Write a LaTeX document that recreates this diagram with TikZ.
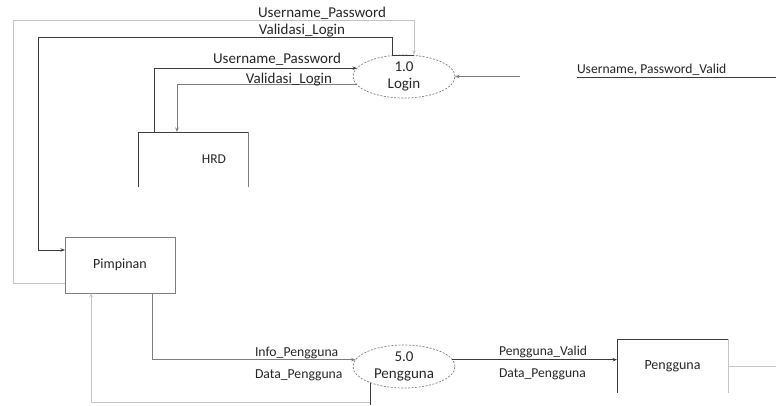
\documentclass[tikz,border=0pt]{standalone}
\usepackage{fontspec}
\setmainfont{Carlito}
\usetikzlibrary{arrows.meta,shapes.geometric}
\definecolor{dk}{HTML}{3C3C3C}
\definecolor{md}{HTML}{7E7E7E}
\definecolor{lt}{HTML}{C4C4C4}
\definecolor{txt}{HTML}{262626}
\begin{document}
\begin{tikzpicture}[x=1pt,y=-1pt,
  lab/.style={font=\fontsize{14}{16}\selectfont, text=txt, inner sep=0pt, outer sep=0pt},
  biglab/.style={font=\fontsize{15}{17}\selectfont, text=txt, inner sep=0pt, outer sep=0pt},
  proc/.style={ellipse, draw=md, dash pattern=on 2pt off 1.5pt, line width=0.7pt,
    minimum width=102pt, minimum height=43pt, inner sep=0pt, outer sep=0pt,
    align=center, font=\fontsize{15}{17}\selectfont, text=txt},
  openbox/.style={rectangle, minimum width=110pt, minimum height=55pt, inner sep=0pt,
    outer sep=0pt, font=\fontsize{14}{16}\selectfont, text=txt},
  arr/.style={-{Stealth[length=4.5pt,width=3.5pt]}},
  dkline/.style={draw=dk, line width=0.8pt},
  mdline/.style={draw=md, line width=0.8pt},
  ltline/.style={draw=lt, line width=0.8pt}]
\useasboundingbox (0,0) rectangle (776,405);

% processes
\node[proc] (login) at (404,76.5) {1.0\\Login};
\node[proc] (p5) at (404,366.5) {5.0\\Pengguna};

% entities
\node[openbox, minimum width=110pt, minimum height=55pt,
  label={[font=\fontsize{13.5}{16}\selectfont, text=txt, xshift=21pt]center:HRD}] (hrd) at (193,159.5) {};
\draw[dkline] (hrd.south west) -- (hrd.north west) -- (hrd.north east);
\draw[mdline] (hrd.north east) -- (hrd.south east);

\node[openbox, draw=md, line width=0.8pt, minimum width=110pt, minimum height=56pt] (pimp) at (120,265) {Pimpinan};

\node[openbox, minimum width=111pt, minimum height=54pt] (peng) at (672.5,366) {Pengguna};
\draw[dkline] (peng.south west) -- (peng.north west) -- (peng.north east);
\draw[ltline] (peng.north east) -- (peng.south east);

% coordinates
\coordinate (c1) at (13,20);
\coordinate (c2) at (38,37);
\coordinate (c3) at (520,76.5);
\coordinate (c4) at (776,77.5);
\coordinate (c5) at (371,402);
\coordinate (c6) at (371,405);
\coordinate (c7) at (776,366);

% connectors
\draw[ltline,arr] ([yshift=-18pt]pimp.west) -| (c1) -| ([xshift=10pt]login.north);
\draw[dkline,arr] ([xshift=10pt]login.north) -- ([xshift=-12pt]login.north) |- (c2) |- ([yshift=15pt]pimp.west);
\draw[dkline,arr] ([xshift=16pt]hrd.north west) |- (login.170);
\draw[mdline,arr] (login.190) -| ([xshift=39pt]hrd.north west);
\draw[mdline,arr] (c3) -- (login.east);
\node[lab, font=\fontsize{13.6}{16}\selectfont, anchor=base west] (uplab) at (577,73) {Username, Password\_Valid};
\draw[dkline] (uplab.west |- c4) -- (c4);

\draw[mdline,arr] ([xshift=-23pt]pimp.south east) |- (p5.172);
\draw[ltline,arr] (c5) -| ([xshift=26pt]pimp.south west);
\draw[dkline] (p5.206) -- (p5.206 |- c6);
\draw[dkline,arr] (p5.8) -- (p5.8 -| peng.west);
\draw[ltline] (peng.east) -- (peng.east -| c7);

% labels
\node[biglab, anchor=base] (l1) at (322,17) {Username\_Password};
\node[biglab, anchor=base] (l2) at (302,34) {Validasi\_Login};
\node[biglab, anchor=base] (l3) at (277,63) {Username\_Password};
\node[biglab, anchor=base] (l4) at (289,83) {Validasi\_Login};
\node[lab, font=\fontsize{13.7}{16}\selectfont, anchor=base west] (l5) at (255,356) {Info\_Pengguna};
\node[lab, font=\fontsize{13.7}{16}\selectfont, anchor=base west] (l6) at (255,378) {Data\_Pengguna};
\node[lab, font=\fontsize{13.6}{16}\selectfont, anchor=base west] (l7) at (499,355) {Pengguna\_Valid};
\node[lab, font=\fontsize{13.6}{16}\selectfont, anchor=base west] (l8) at (499,377) {Data\_Pengguna};
\end{tikzpicture}
\end{document}
